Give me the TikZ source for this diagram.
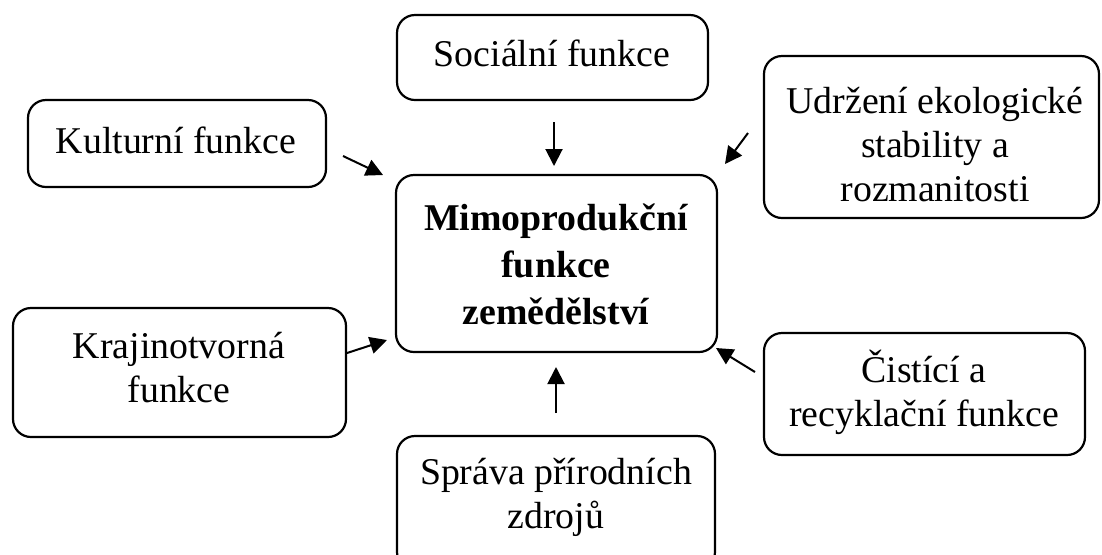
\documentclass[tikz,border=0pt]{standalone}
\usepackage{fontspec}
\setmainfont{Liberation Serif}
\usetikzlibrary{arrows.meta}
\begin{document}
\begin{tikzpicture}[x=0.5pt,y=-0.5pt,
  box/.style={draw=black,line width=1.1pt,rounded corners=9pt,inner sep=0pt,outer sep=0pt},
  txt/.style={align=center,inner sep=0pt,font=\fontsize{18.9pt}{22pt}\selectfont},
  btxt/.style={align=center,inner sep=0pt,font=\fontsize{18.9pt}{23.5pt}\selectfont\bfseries},
  arr/.style={line width=1pt,-{Triangle[length=8.5pt,width=8.5pt]}}]
\clip (0,0) rectangle (1102,554);
% boxes
\node[box,minimum width=155.5pt,minimum height=42.5pt] (soc) at (552.5,57.5) {};
\node[box,minimum width=149pt,minimum height=43.5pt] (kul) at (177,143.5) {};
\node[box,minimum width=167.5pt,minimum height=81pt] (udr) at (931.5,137) {};
\node[box,minimum width=160.5pt,minimum height=88.5pt] (cen) at (556.5,263.5) {};
\node[box,minimum width=166.5pt,minimum height=64.5pt] (kra) at (179.5,372.5) {};
\node[box,minimum width=160.5pt,minimum height=61pt] (cis) at (924.5,394) {};
\node[box,minimum width=159pt,minimum height=67pt] (spr) at (556,503) {};
% texts
\node[txt] (socT) at (552,53) {Sociální funkce};
\node[txt] (kulT) at (176,140) {Kulturní funkce};
\node[txt] (udrT) at (935,145) {Udržení ekologické\\stability a\\rozmanitosti};
\node[btxt] (cenT) at (556,264) {Mimoprodukční\\funkce\\zemědělství};
\node[txt] (kraT) at (179,368) {Krajinotvorná\\funkce};
\node[txt] (cisT) at (924,392) {Čistící a\\recyklační funkce};
\node[txt] (sprT) at (556,497) {Správa přírodních\\zdrojů};
% arrow ends
\coordinate (socA) at (554,122); \coordinate (socB) at (554,166);
\coordinate (kulA) at (343,156); \coordinate (kulB) at (383,175);
\coordinate (udrA) at (748,133); \coordinate (udrB) at (725,164);
\coordinate (kraA) at (347,353); \coordinate (kraB) at (387,340);
\coordinate (cisA) at (755,372); \coordinate (cisB) at (716,348);
\coordinate (sprA) at (556,413); \coordinate (sprB) at (556,367);
\draw[arr] (socA) -- (socB);
\draw[arr] (kulA) -- (kulB);
\draw[arr] (udrA) -- (udrB);
\draw[arr] (kraA) -- (kraB);
\draw[arr] (cisA) -- (cisB);
\draw[arr] (sprA) -- (sprB);
\end{tikzpicture}
\end{document}
